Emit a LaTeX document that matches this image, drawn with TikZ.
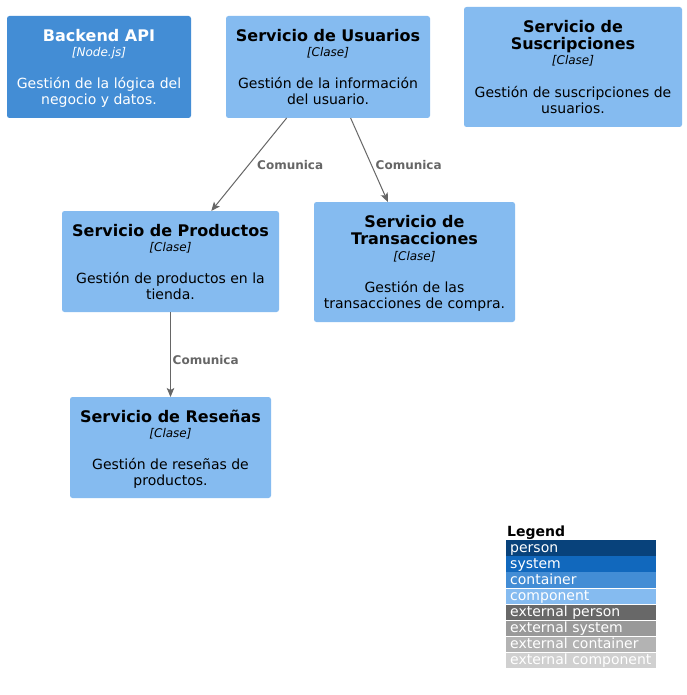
\documentclass[tikz,border=0pt]{standalone}
\usepackage{fontspec}
\setmainfont{DejaVu Sans}[BoldFont={DejaVu Sans Bold},ItalicFont={DejaVu Sans Oblique},BoldItalicFont={DejaVu Sans Bold Oblique}]
\usetikzlibrary{arrows.meta}
\definecolor{comp}{HTML}{85BBF0}
\definecolor{cont}{HTML}{438DD5}
\definecolor{pers}{HTML}{08427B}
\definecolor{syst}{HTML}{1168BD}
\definecolor{extpers}{HTML}{686868}
\definecolor{extsyst}{HTML}{999999}
\definecolor{extcont}{HTML}{B3B3B3}
\definecolor{extcomp}{HTML}{D0D0D0}
\definecolor{relgray}{HTML}{666666}
\tikzset{
  compbox/.style={fill=comp, rounded corners=2.5pt, inner sep=0pt, outer sep=0pt},
  contbox/.style={fill=cont, rounded corners=2.5pt, inner sep=0pt, outer sep=0pt},
  ttl/.style={anchor=base, inner sep=0pt, font=\fontsize{16}{19}\selectfont\bfseries},
  ster/.style={anchor=base, inner sep=0pt, font=\fontsize{12}{14}\selectfont\itshape},
  dsc/.style={anchor=base, inner sep=0pt, font=\fontsize{14}{16}\selectfont},
  rel/.style={draw=relgray, line width=1pt, -{Stealth[length=9pt,width=7.5pt,inset=2pt]}},
  rlab/.style={anchor=base west, inner sep=0pt, text=relgray, font=\fontsize{12}{14}\selectfont\bfseries},
  legrow/.style={anchor=north west, inner sep=0pt, minimum width=150pt, minimum height=15.3pt},
  legtext/.style={anchor=base west, inner sep=0pt, text=white, font=\fontsize{14}{16}\selectfont},
}
\begin{document}
\begin{tikzpicture}[x=1pt,y=-1pt]
\fill[white] (0,0) rectangle (686,695);
\useasboundingbox (0,0) rectangle (686,695);

% Backend API
\node[contbox, minimum width=184pt, minimum height=102pt] (api) at (99,67) {};
\node[ttl, text=white] (apit) at (99,41.5) {Backend API};
\node[ster, text=white] (apis) at (99,56.5) {[Node.js]};
\node[dsc, text=white] (apid1) at (99,88.5) {Gestión de la lógica del};
\node[dsc, text=white] (apid2) at (99,104.5) {negocio y datos.};

% Servicio de Usuarios
\node[compbox, minimum width=204pt, minimum height=102pt] (usu) at (328,67) {};
\node[ttl] (usut) at (328,41.5) {Servicio de Usuarios};
\node[ster] (usus) at (328,56.5) {[Clase]};
\node[dsc] (usud1) at (328,88.5) {Gestión de la información};
\node[dsc] (usud2) at (328,104.5) {del usuario.};

% Servicio de Suscripciones
\node[compbox, minimum width=218pt, minimum height=120pt] (sus) at (573,67) {};
\node[ttl] (sust1) at (573,32.5) {Servicio de};
\node[ttl] (sust2) at (573,49.5) {Suscripciones};
\node[ster] (suss) at (573,65) {[Clase]};
\node[dsc] (susd1) at (573,97.5) {Gestión de suscripciones de};
\node[dsc] (susd2) at (573,113.5) {usuarios.};

% Servicio de Productos
\node[compbox, minimum width=217pt, minimum height=101pt] (prod) at (170.5,261.5) {};
\node[ttl] (prodt) at (170.5,236.5) {Servicio de Productos};
\node[ster] (prods) at (170.5,251.5) {[Clase]};
\node[dsc] (prodd1) at (170.5,283.5) {Gestión de productos en la};
\node[dsc] (prodd2) at (170.5,299.5) {tienda.};

% Servicio de Transacciones
\node[compbox, minimum width=201pt, minimum height=120pt] (tra) at (414.5,262) {};
\node[ttl] (trat1) at (414.5,227.5) {Servicio de};
\node[ttl] (trat2) at (414.5,244.5) {Transacciones};
\node[ster] (tras) at (414.5,260) {[Clase]};
\node[dsc] (trad1) at (414.5,292.5) {Gestión de las};
\node[dsc] (trad2) at (414.5,308.5) {transacciones de compra.};

% Servicio de Resenas
\node[compbox, minimum width=201pt, minimum height=101pt] (res) at (170.5,447.5) {};
\node[ttl] (rest) at (170.5,422.5) {Servicio de Reseñas};
\node[ster] (ress) at (170.5,437.5) {[Clase]};
\node[dsc] (resd1) at (170.5,469.5) {Gestión de reseñas de};
\node[dsc] (resd2) at (170.5,485.5) {productos.};

% Relations
\draw[rel] (usu) -- (prod);
\draw[rel] (usu) -- (tra);
\draw[rel] (prod) -- (res);
\node[rlab] (l1) at (257,169) {Comunica};
\node[rlab] (l2) at (375.5,169) {Comunica};
\node[rlab] (l3) at (172.5,364.5) {Comunica};

% Legend
\node[anchor=base west, inner sep=0pt, font=\fontsize{14}{16}\selectfont\bfseries] (legtitle) at (507,536) {Legend};
\foreach \i/\c/\t in {0/pers/person,1/syst/system,2/cont/container,3/comp/component,4/extpers/external person,5/extsyst/external system,6/extcont/external container,7/extcomp/external component}{
  \node[legrow, fill=\c] (leg\i) at (506,{540+16.1*\i}) {};
  \node[legtext] (legt\i) at (510,{540+16.1*\i+12}) {\t};
}
\end{tikzpicture}
\end{document}
